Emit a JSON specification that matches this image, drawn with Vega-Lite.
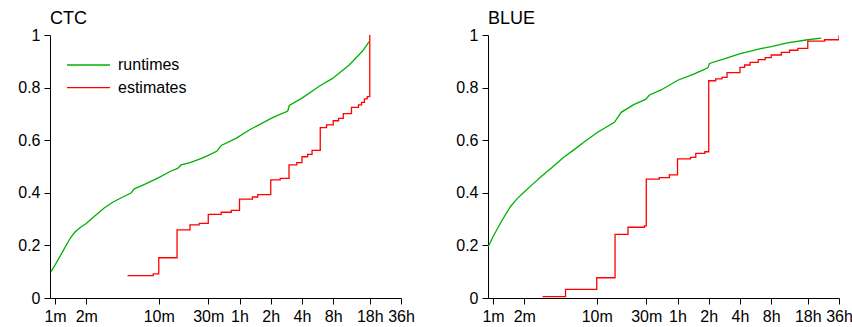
{
  "$schema": "https://vega.github.io/schema/vega-lite/v6.json",
  "padding": {"left": 17, "top": 10, "right": 0, "bottom": 0},
  "background": "white",
  "bounds": "flush",
  "spacing": 87,
  "config": {
    "view": {"stroke": null},
    "font": "Liberation Sans",
    "axis": {"labelFont": "Liberation Sans", "labelFontSize": 16, "labelColor": "#000", "domainColor": "#000", "tickColor": "#000", "tickSize": 6, "grid": false, "title": null, "labelPadding": 4, "domainWidth": 1, "tickWidth": 1},
    "title": {"font": "Liberation Sans", "fontSize": 18, "fontWeight": "normal", "anchor": "start", "frame": "group", "color": "#000", "offset": -1},
    "legend": {"labelFont": "Liberation Sans", "labelFontSize": 16, "labelColor": "#000"}
  },
  "data": {"values": [
    {"p":"CTC","s":"runtimes","t":0.915,"f":0.100},{"p":"CTC","s":"runtimes","t":1.0,"f":0.125},{"p":"CTC","s":"runtimes","t":1.2,"f":0.18},{"p":"CTC","s":"runtimes","t":1.4,"f":0.227},{"p":"CTC","s":"runtimes","t":1.55,"f":0.25},{"p":"CTC","s":"runtimes","t":1.75,"f":0.268},{"p":"CTC","s":"runtimes","t":2,"f":0.283},{"p":"CTC","s":"runtimes","t":2.48,"f":0.316},{"p":"CTC","s":"runtimes","t":3.0,"f":0.343},{"p":"CTC","s":"runtimes","t":3.6,"f":0.364},{"p":"CTC","s":"runtimes","t":4.5,"f":0.384},{"p":"CTC","s":"runtimes","t":5.4,"f":0.399},{"p":"CTC","s":"runtimes","t":5.8,"f":0.415},{"p":"CTC","s":"runtimes","t":7.3,"f":0.432},{"p":"CTC","s":"runtimes","t":10,"f":0.458},{"p":"CTC","s":"runtimes","t":13,"f":0.482},{"p":"CTC","s":"runtimes","t":15.2,"f":0.493},{"p":"CTC","s":"runtimes","t":16.4,"f":0.506},{"p":"CTC","s":"runtimes","t":20,"f":0.515},{"p":"CTC","s":"runtimes","t":25.5,"f":0.53},{"p":"CTC","s":"runtimes","t":30,"f":0.542},{"p":"CTC","s":"runtimes","t":36.5,"f":0.559},{"p":"CTC","s":"runtimes","t":40,"f":0.58},{"p":"CTC","s":"runtimes","t":55.5,"f":0.607},{"p":"CTC","s":"runtimes","t":74.5,"f":0.639},{"p":"CTC","s":"runtimes","t":125,"f":0.686},{"p":"CTC","s":"runtimes","t":175,"f":0.711},{"p":"CTC","s":"runtimes","t":181,"f":0.732},{"p":"CTC","s":"runtimes","t":240,"f":0.76},{"p":"CTC","s":"runtimes","t":352,"f":0.805},{"p":"CTC","s":"runtimes","t":473,"f":0.835},{"p":"CTC","s":"runtimes","t":684,"f":0.886},{"p":"CTC","s":"runtimes","t":921,"f":0.939},{"p":"CTC","s":"runtimes","t":1065,"f":0.975},
    {"p":"CTC","s":"estimates","t":5,"f":0.085},{"p":"CTC","s":"estimates","t":8.85,"f":0.092},{"p":"CTC","s":"estimates","t":10,"f":0.153},{"p":"CTC","s":"estimates","t":15,"f":0.259},{"p":"CTC","s":"estimates","t":20,"f":0.278},{"p":"CTC","s":"estimates","t":24.5,"f":0.284},{"p":"CTC","s":"estimates","t":30,"f":0.318},{"p":"CTC","s":"estimates","t":40,"f":0.326},{"p":"CTC","s":"estimates","t":50,"f":0.333},{"p":"CTC","s":"estimates","t":60,"f":0.376},{"p":"CTC","s":"estimates","t":80,"f":0.384},{"p":"CTC","s":"estimates","t":90,"f":0.393},{"p":"CTC","s":"estimates","t":120,"f":0.449},{"p":"CTC","s":"estimates","t":148,"f":0.455},{"p":"CTC","s":"estimates","t":180,"f":0.506},{"p":"CTC","s":"estimates","t":214,"f":0.515},{"p":"CTC","s":"estimates","t":240,"f":0.537},{"p":"CTC","s":"estimates","t":272,"f":0.546},{"p":"CTC","s":"estimates","t":300,"f":0.561},{"p":"CTC","s":"estimates","t":360,"f":0.648},{"p":"CTC","s":"estimates","t":414,"f":0.658},{"p":"CTC","s":"estimates","t":480,"f":0.674},{"p":"CTC","s":"estimates","t":540,"f":0.683},{"p":"CTC","s":"estimates","t":600,"f":0.701},{"p":"CTC","s":"estimates","t":720,"f":0.725},{"p":"CTC","s":"estimates","t":840,"f":0.734},{"p":"CTC","s":"estimates","t":900,"f":0.744},{"p":"CTC","s":"estimates","t":960,"f":0.757},{"p":"CTC","s":"estimates","t":1020,"f":0.766},{"p":"CTC","s":"estimates","t":1080,"f":1.0},
    {"p":"BLUE","s":"runtimes","t":0.9,"f":0.195},{"p":"BLUE","s":"runtimes","t":1.0,"f":0.233},{"p":"BLUE","s":"runtimes","t":1.2,"f":0.29},{"p":"BLUE","s":"runtimes","t":1.47,"f":0.347},{"p":"BLUE","s":"runtimes","t":1.7,"f":0.377},{"p":"BLUE","s":"runtimes","t":2.0,"f":0.403},{"p":"BLUE","s":"runtimes","t":2.4,"f":0.432},{"p":"BLUE","s":"runtimes","t":2.9,"f":0.461},{"p":"BLUE","s":"runtimes","t":3.8,"f":0.5},{"p":"BLUE","s":"runtimes","t":4.87,"f":0.537},{"p":"BLUE","s":"runtimes","t":6.2,"f":0.567},{"p":"BLUE","s":"runtimes","t":7.6,"f":0.594},{"p":"BLUE","s":"runtimes","t":10.2,"f":0.630},{"p":"BLUE","s":"runtimes","t":14.8,"f":0.668},{"p":"BLUE","s":"runtimes","t":17.2,"f":0.706},{"p":"BLUE","s":"runtimes","t":22.7,"f":0.735},{"p":"BLUE","s":"runtimes","t":29.5,"f":0.755},{"p":"BLUE","s":"runtimes","t":32.2,"f":0.772},{"p":"BLUE","s":"runtimes","t":41.7,"f":0.791},{"p":"BLUE","s":"runtimes","t":60.4,"f":0.828},{"p":"BLUE","s":"runtimes","t":86,"f":0.851},{"p":"BLUE","s":"runtimes","t":109,"f":0.869},{"p":"BLUE","s":"runtimes","t":118,"f":0.876},{"p":"BLUE","s":"runtimes","t":122,"f":0.892},{"p":"BLUE","s":"runtimes","t":181,"f":0.913},{"p":"BLUE","s":"runtimes","t":237,"f":0.928},{"p":"BLUE","s":"runtimes","t":379,"f":0.948},{"p":"BLUE","s":"runtimes","t":480,"f":0.956},{"p":"BLUE","s":"runtimes","t":686,"f":0.970},{"p":"BLUE","s":"runtimes","t":1083,"f":0.982},{"p":"BLUE","s":"runtimes","t":1455,"f":0.988},
    {"p":"BLUE","s":"estimates","t":3.0,"f":0.005},{"p":"BLUE","s":"estimates","t":5,"f":0.033},{"p":"BLUE","s":"estimates","t":10,"f":0.077},{"p":"BLUE","s":"estimates","t":15,"f":0.242},{"p":"BLUE","s":"estimates","t":20,"f":0.269},{"p":"BLUE","s":"estimates","t":28.8,"f":0.274},{"p":"BLUE","s":"estimates","t":30,"f":0.452},{"p":"BLUE","s":"estimates","t":40,"f":0.458},{"p":"BLUE","s":"estimates","t":50,"f":0.468},{"p":"BLUE","s":"estimates","t":60,"f":0.529},{"p":"BLUE","s":"estimates","t":80,"f":0.535},{"p":"BLUE","s":"estimates","t":90,"f":0.550},{"p":"BLUE","s":"estimates","t":110,"f":0.556},{"p":"BLUE","s":"estimates","t":120,"f":0.826},{"p":"BLUE","s":"estimates","t":140,"f":0.833},{"p":"BLUE","s":"estimates","t":161,"f":0.839},{"p":"BLUE","s":"estimates","t":180,"f":0.857},{"p":"BLUE","s":"estimates","t":240,"f":0.877},{"p":"BLUE","s":"estimates","t":266,"f":0.886},{"p":"BLUE","s":"estimates","t":300,"f":0.896},{"p":"BLUE","s":"estimates","t":360,"f":0.906},{"p":"BLUE","s":"estimates","t":420,"f":0.914},{"p":"BLUE","s":"estimates","t":480,"f":0.924},{"p":"BLUE","s":"estimates","t":600,"f":0.934},{"p":"BLUE","s":"estimates","t":720,"f":0.942},{"p":"BLUE","s":"estimates","t":867,"f":0.949},{"p":"BLUE","s":"estimates","t":1080,"f":0.977},{"p":"BLUE","s":"estimates","t":1567,"f":0.982},{"p":"BLUE","s":"estimates","t":2160,"f":0.998}
  ]},
  "resolve": {"legend": {"color": "independent"}},
  "hconcat": [
    {
      "title": "CTC",
      "width": 351, "height": 263,
      "transform": [{"filter": "datum.p === 'CTC'"}],
      "encoding": {
        "x": {"field": "t", "type": "quantitative", "scale": {"type": "log", "domain": [0.895, 2160], "nice": false}, "axis": {"values": [1,2,10,30,60,120,240,480,1080,2160], "labelExpr": "datum.value < 60 ? datum.value + 'm' : (datum.value / 60) + 'h'", "labelFlush": false, "labelOverlap": false}},
        "y": {"field": "f", "type": "quantitative", "scale": {"domain": [0, 1], "nice": false}, "axis": {"values": [0, 0.2, 0.4, 0.6, 0.8, 1], "format": "~g"}},
        "color": {"field": "s", "type": "nominal", "scale": {"domain": ["runtimes", "estimates"], "range": ["#00b000", "#ff0000"]},
          "legend": {"title": null, "orient": "none", "legendX": 16, "legendY": 22, "symbolType": "stroke", "symbolSize": 1849, "symbolStrokeWidth": 1.3, "clipHeight": 16, "rowPadding": 6.7, "labelOffset": 7, "padding": 0}}
      },
      "layer": [
        {"transform": [{"filter": "datum.s === 'runtimes'"}], "mark": {"type": "line", "strokeWidth": 1.3, "clip": true}},
        {"transform": [{"filter": "datum.s === 'estimates'"}], "mark": {"type": "line", "interpolate": "step-after", "strokeWidth": 1.3, "clip": true}}
      ]
    },
    {
      "title": "BLUE",
      "width": 351, "height": 263,
      "transform": [{"filter": "datum.p === 'BLUE'"}],
      "encoding": {
        "x": {"field": "t", "type": "quantitative", "scale": {"type": "log", "domain": [0.895, 2160], "nice": false}, "axis": {"values": [1,2,10,30,60,120,240,480,1080,2160], "labelExpr": "datum.value < 60 ? datum.value + 'm' : (datum.value / 60) + 'h'", "labelFlush": false, "labelOverlap": false}},
        "y": {"field": "f", "type": "quantitative", "scale": {"domain": [0, 1], "nice": false}, "axis": {"values": [0, 0.2, 0.4, 0.6, 0.8, 1], "format": "~g"}},
        "color": {"field": "s", "type": "nominal", "scale": {"domain": ["runtimes", "estimates"], "range": ["#00b000", "#ff0000"]}, "legend": null}
      },
      "layer": [
        {"transform": [{"filter": "datum.s === 'runtimes'"}], "mark": {"type": "line", "strokeWidth": 1.3, "clip": true}},
        {"transform": [{"filter": "datum.s === 'estimates'"}], "mark": {"type": "line", "interpolate": "step-after", "strokeWidth": 1.3, "clip": true}}
      ]
    }
  ]
}
